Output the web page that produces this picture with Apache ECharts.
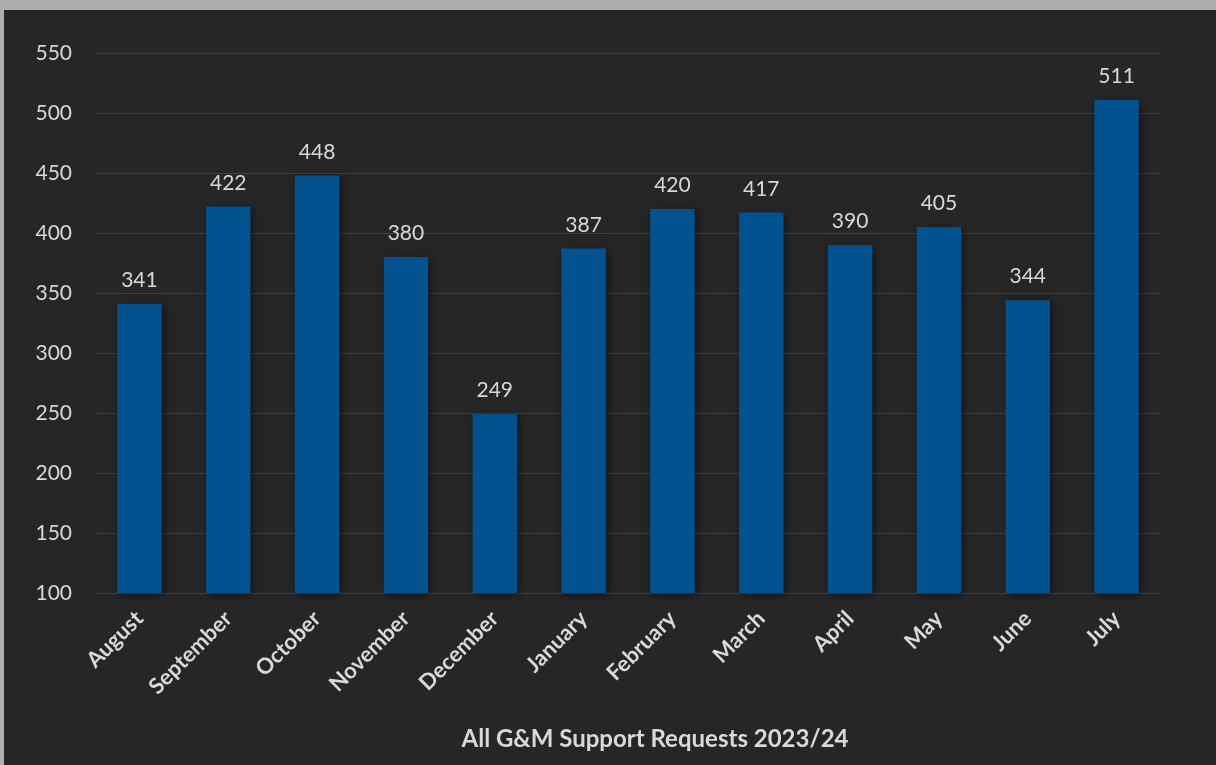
<!DOCTYPE html>
<html>
<head>
<meta charset="utf-8">
<script src="https://cdn.jsdelivr.net/npm/echarts@6/dist/echarts.min.js"></script>
<style>
  html, body { margin: 0; padding: 0; background: #b0adab; width: 1216px; height: 765px; overflow: hidden; }
  #chart { position: absolute; left: 4px; top: 10px; width: 1212px; height: 755px; background: #262626; }
</style>
</head>
<body>
<div id="chart"></div>
<script>
const categories = ["August","September","October","November","December","January","February","March","April","May","June","July"];
const requests = [341, 422, 448, 380, 249, 387, 420, 417, 390, 405, 344, 511];
const yTicks = [100, 150, 200, 250, 300, 350, 400, 450, 500, 550];
const chartTitle = "All G&M Support Requests 2023/24";

const FONT = "Lato, 'Open Sans', sans-serif";
const chart = echarts.init(document.getElementById('chart'), null, { renderer: 'canvas' });
chart.setOption({
  backgroundColor: '#262626',
  animation: false,
  title: {
    text: chartTitle,
    left: 646,
    top: 712,
    textAlign: 'center',
    textStyle: { color: '#d9d9d9', fontFamily: FONT, fontWeight: 'bold', fontSize: 24 }
  },
  grid: { left: 91, right: 55, top: 43, bottom: 172, containLabel: false },
  xAxis: {
    type: 'category',
    data: categories,
    axisLine: { show: true, lineStyle: { color: '#404040', width: 1 } },
    axisTick: { show: false },
    axisLabel: {
      rotate: 45,
      margin: 22,
      color: '#d9d9d9',
      fontFamily: FONT,
      fontWeight: 'bold',
      fontSize: 22,
      interval: 0
    }
  },
  yAxis: {
    type: 'value',
    min: yTicks[0],
    max: yTicks[yTicks.length - 1],
    interval: yTicks[1] - yTicks[0],
    axisLine: { show: false },
    axisTick: { show: false },
    splitLine: { lineStyle: { color: '#404040', width: 1 } },
    axisLabel: { margin: 23, color: '#d9d9d9', fontFamily: FONT, fontSize: 21 }
  },
  series: [{
    type: 'bar',
    data: requests,
    barWidth: '50%',
    itemStyle: {
      color: '#01528f',
      shadowColor: 'rgba(0,0,0,0.55)',
      shadowBlur: 8,
      shadowOffsetX: 2,
      shadowOffsetY: 2
    },
    label: {
      show: true,
      position: 'top',
      distance: 13,
      color: '#d9d9d9',
      fontFamily: FONT,
      fontSize: 21
    }
  }]
});
</script>
</body>
</html>
